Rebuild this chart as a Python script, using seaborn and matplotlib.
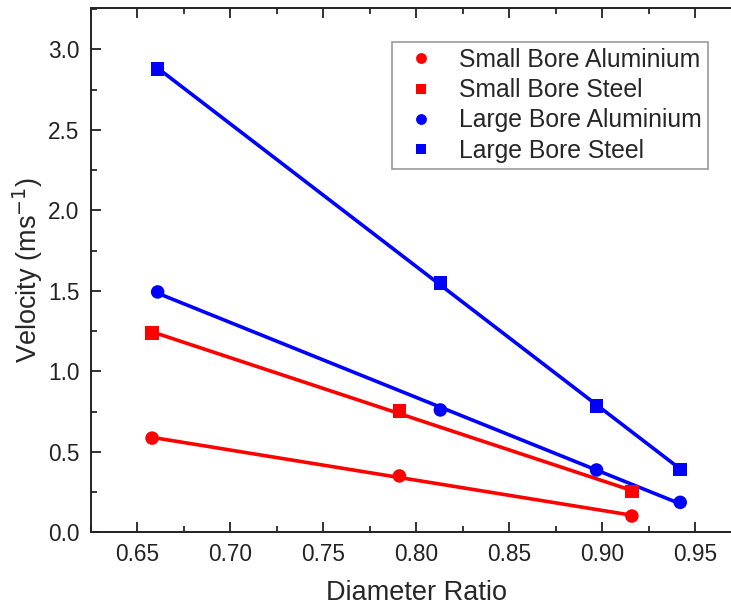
import numpy as np
import pandas as pd
import matplotlib
matplotlib.use("Agg")
import matplotlib.pyplot as plt
import seaborn as sns
from matplotlib.ticker import MultipleLocator

# Data
series_names = ["Small Bore Aluminium", "Small Bore Steel", "Large Bore Aluminium", "Large Bore Steel"]
sba_x = [0.658, 0.791, 0.916]
sba_y = [0.585, 0.350, 0.101]
sbs_x = [0.658, 0.791, 0.916]
sbs_y = [1.238, 0.752, 0.252]
lba_x = [0.661, 0.813, 0.897, 0.942]
lba_y = [1.493, 0.760, 0.387, 0.186]
lbs_x = [0.661, 0.813, 0.897, 0.942]
lbs_y = [2.878, 1.550, 0.786, 0.391]

xs = [sba_x, sbs_x, lba_x, lbs_x]
ys = [sba_y, sbs_y, lba_y, lbs_y]
colors = ["#ff0000", "#ff0000", "#0000ff", "#0000ff"]
markers = ["o", "s", "o", "s"]

frames = []
for name, x, y in zip(series_names, xs, ys):
    frames.append(pd.DataFrame({"Diameter Ratio": x, "Velocity": y, "Series": name}))
df = pd.concat(frames, ignore_index=True)

sns.set_style("ticks")
plt.rcParams["font.family"] = ["Liberation Sans", "DejaVu Sans"]

fig = plt.figure(figsize=(7.31, 6.10), dpi=100)
ax = fig.add_axes([0.1241, 0.1274, 0.8904, 0.8590])

for name, c in zip(series_names, colors):
    sub = df[df["Series"] == name]
    sns.regplot(data=sub, x="Diameter Ratio", y="Velocity", ax=ax, scatter=False,
                ci=None, truncate=True, color=c, line_kws={"lw": 2.6, "zorder": 2})

sns.scatterplot(data=df, x="Diameter Ratio", y="Velocity", hue="Series", style="Series",
                hue_order=series_names, style_order=series_names,
                palette=dict(zip(series_names, colors)),
                markers=dict(zip(series_names, markers)),
                s=95, edgecolor="none", linewidth=0, ax=ax, zorder=3)

ax.set_xlim(0.625, 0.975)
ax.set_ylim(0.0, 3.255)
ax.xaxis.set_minor_locator(MultipleLocator(0.025))
ax.yaxis.set_minor_locator(MultipleLocator(0.25))
xt = np.arange(0.65, 0.951, 0.05)
yt = np.arange(0.0, 3.01, 0.5)
ax.set_xticks(xt)
ax.set_xticklabels([f"{v:.2f}" for v in xt])
ax.set_yticks(yt)
ax.set_yticklabels([f"{v:.1f}" for v in yt])

ax.tick_params(which="major", direction="in", length=7, width=1.3, top=True, right=True,
               labelsize=16.3, colors="#222222", pad=8)
ax.tick_params(which="minor", direction="in", length=4, width=1.3, top=True, right=True)
for s in ax.spines.values():
    s.set_linewidth(1.4)
    s.set_color("#222222")

ax.set_xlabel("Diameter Ratio", fontsize=19.5, labelpad=10)
ax.set_ylabel("Velocity (ms$^{-1}$)", fontsize=19.5, labelpad=2)

leg = ax.legend(loc="upper left", bbox_to_anchor=(0.463, 0.936), borderaxespad=0,
                fontsize=17.8, frameon=True, fancybox=False, edgecolor="#999999",
                framealpha=1, handletextpad=0.6, labelspacing=0.25, borderpad=0.25,
                handlelength=1.85, markerscale=0.8)
leg.get_frame().set_linewidth(1.2)

fig.savefig("out.png", dpi=100)
